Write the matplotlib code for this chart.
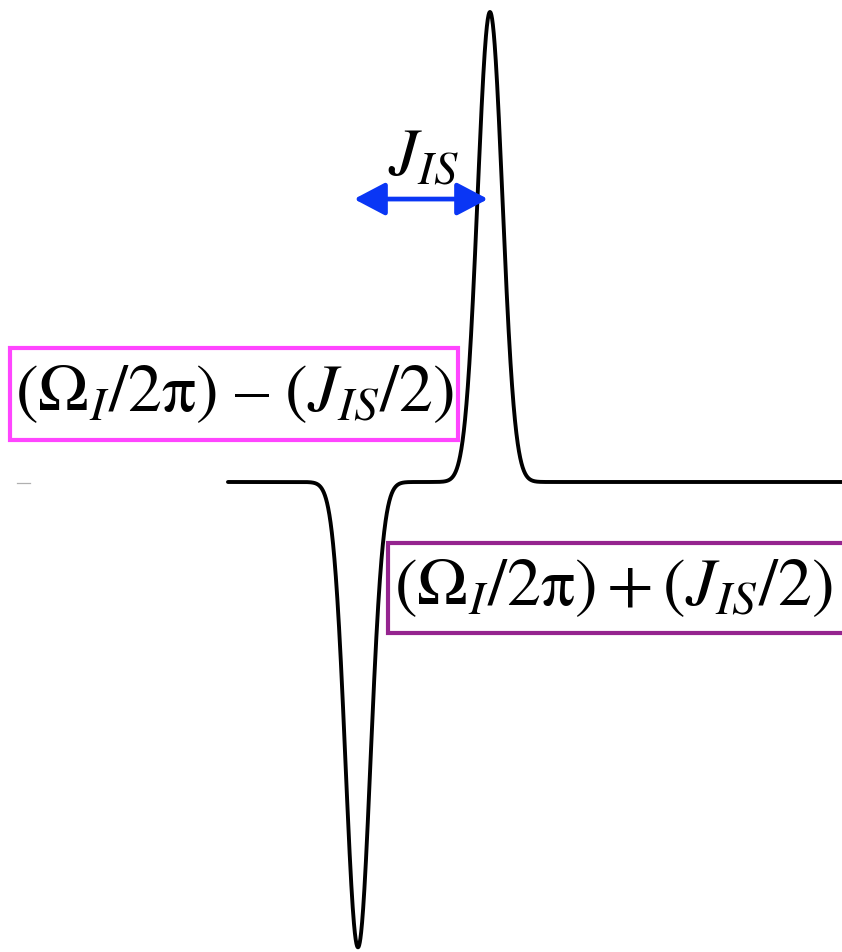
import numpy as np
import matplotlib.pyplot as plt
from matplotlib.patches import Rectangle

plt.rcParams['mathtext.fontset'] = 'stix'
plt.rcParams['font.family'] = ['Liberation Serif', 'DejaVu Serif']

# antiphase doublet of spin I, frequencies in Hz relative to Omega_I/2pi
J_IS = 10.0
peak_pos = [-J_IS / 2, J_IS / 2]
peak_amp = [-0.99, 1.0]
peak_sigma = 0.94
freq_start, freq_end = -14.85, 31.7

labels = [r'$(\Omega_I/2\mathrm{\pi})\ \endash\ (J_{IS}/2)$',
          r'$(\Omega_I/2\mathrm{\pi})+(J_{IS}/2)$']
label_colors = ['#ff45ff', '#95248f']

freq = np.linspace(freq_start, freq_end, 4000)
spec = np.zeros_like(freq)
for p, a in zip(peak_pos, peak_amp):
    spec += a * np.exp(-(freq - p) ** 2 / (2 * peak_sigma ** 2))

fig = plt.figure(figsize=(8.42, 9.52), dpi=100)
ax = fig.add_axes([0, 0, 1, 1])
ax.set_xlim(-32.12, 31.67)
ax.set_ylim(-1.0, 1.0255)
ax.axis('off')

ax.plot(freq, spec, color='black', lw=2.8, solid_capstyle='round', zorder=2)
ax.plot([-30.83, -29.85], [-0.003, -0.003], color='#b0b0b0', lw=0.9)

# coupling arrow
ax.annotate('', xy=(4.85, 0.602), xytext=(-5.3, 0.602),
            arrowprops=dict(arrowstyle='<|-|>,head_length=0.95,head_width=0.5',
                            color='#0a36f5', lw=3.4, shrinkA=0, shrinkB=0,
                            mutation_scale=20))
ax.text(0.0, 0.652, r'$J_{IS}$', fontsize=48, ha='center', va='baseline')

# boxed frequency labels
ax.add_patch(Rectangle((-31.36, 0.0894), 33.94, 0.1956, fc='white',
                       ec=label_colors[0], lw=3, zorder=3))
ax.text(-31.0, 0.187, labels[0], fontsize=49, ha='left', va='center', zorder=4)
ax.add_patch(Rectangle((-2.73, -0.3213), 36.0, 0.1915, fc='white',
                       ec=label_colors[1], lw=3, zorder=3, clip_on=True))
ax.text(-2.3, -0.2255, labels[1], fontsize=49, ha='left', va='center', zorder=4)

fig.savefig('out.png', dpi=100)
